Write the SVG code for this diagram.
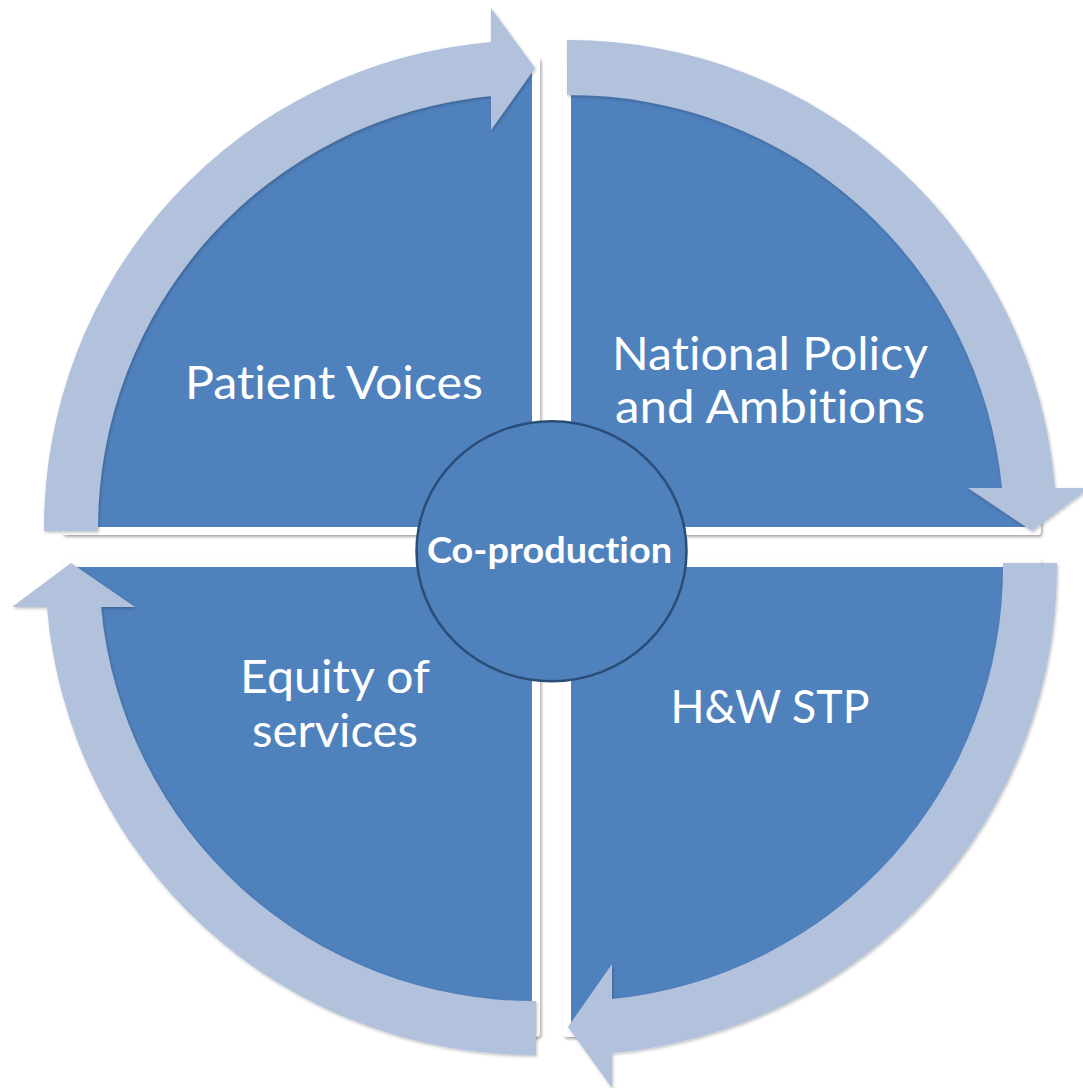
<svg xmlns="http://www.w3.org/2000/svg" width="1083" height="1088" viewBox="0 0 1083 1088">
  <style>
    .sector { fill: #4F81BD; stroke: #FFFFFF; stroke-width: 8; stroke-linejoin: round; filter: url(#shadow); }
    .arrow { fill: #B2C1DC; filter: url(#ashadow); }
    .lbl { font-family: Lato, "Open Sans", "Liberation Sans", sans-serif; font-size: 46px; fill: #FFFFFF; text-anchor: middle; font-variant-ligatures: none; font-feature-settings: "liga" 0, "dlig" 0; }
    .center-lbl { font-family: Lato, "Open Sans", "Liberation Sans", sans-serif; font-size: 36px; font-weight: bold; fill: #FFFFFF; text-anchor: middle; font-variant-ligatures: none; font-feature-settings: "liga" 0; }
  </style>
  <defs>
    <filter id="shadow" x="-5%" y="-5%" width="110%" height="110%">
      <feDropShadow dx="1.5" dy="2" stdDeviation="1.5" flood-color="#000000" flood-opacity="0.35"/>
    </filter>
    <filter id="ashadow" x="-5%" y="-5%" width="110%" height="110%">
      <feDropShadow dx="1" dy="1.5" stdDeviation="1.5" flood-color="#000000" flood-opacity="0.25"/>
    </filter>
  </defs>
  <rect width="1083" height="1088" fill="#FFFFFF"/>

  <g id="node-patient-voices">
    <path class="sector" d="M 536 531 L 66 531 A 470 470 0 0 1 536 61 Z"/>
  </g>
  <g id="node-national-policy">
    <path class="sector" d="M 567 531 L 567 61 A 470 470 0 0 1 1037 531 Z"/>
  </g>
  <g id="node-hw-stp">
    <path class="sector" d="M 567 563 L 1037 563 A 470 470 0 0 1 567 1033 Z"/>
  </g>
  <g id="node-equity">
    <path class="sector" d="M 536 563 L 536 1033 A 470 470 0 0 1 66 563 Z"/>
  </g>

  <g id="connectors">
    <path class="arrow" d="M 44 531 A 488 488 0 0 1 491 42 L 491 8 L 535 68 L 491 130 L 491 96 A 434 434 0 0 0 98 531 Z"/>
    <path class="arrow" d="M 567 40 A 488 488 0 0 1 1055 488 L 1089 488 L 1032 531 L 968 488 L 1002 488 A 434 434 0 0 0 567 95 Z"/>
    <path class="arrow" d="M 1057 563 A 488 488 0 0 1 612 1053 L 612 1088 L 568 1027 L 612 964 L 612 999 A 434 434 0 0 0 1003 563 Z"/>
    <path class="arrow" d="M 536 1055 A 488 488 0 0 1 47 607 L 12 607 L 71 563 L 135 607 L 101 607 A 434 434 0 0 0 536 1001 Z"/>
  </g>

  <g id="labels">
    <text class="lbl" x="334" y="399" textLength="298" lengthAdjust="spacingAndGlyphs">Patient Voices</text>
    <text class="lbl" x="770" y="370" textLength="316" lengthAdjust="spacingAndGlyphs">National Policy</text>
    <text class="lbl" x="770" y="423" textLength="310" lengthAdjust="spacingAndGlyphs">and Ambitions</text>
    <text class="lbl" x="335" y="693" textLength="190" lengthAdjust="spacingAndGlyphs">Equity of</text>
    <text class="lbl" x="335" y="747" textLength="166" lengthAdjust="spacingAndGlyphs">services</text>
    <text class="lbl" x="770" y="723" textLength="199" lengthAdjust="spacingAndGlyphs">H&amp;W STP</text>
  </g>

  <g id="node-co-production">
    <ellipse cx="551.5" cy="551.2" rx="135" ry="130" fill="#4F81BD" stroke="#2A4C77" stroke-width="2.5"/>
    <text class="center-lbl" x="549.5" y="563" textLength="245" lengthAdjust="spacingAndGlyphs">Co-production</text>
  </g>
</svg>
